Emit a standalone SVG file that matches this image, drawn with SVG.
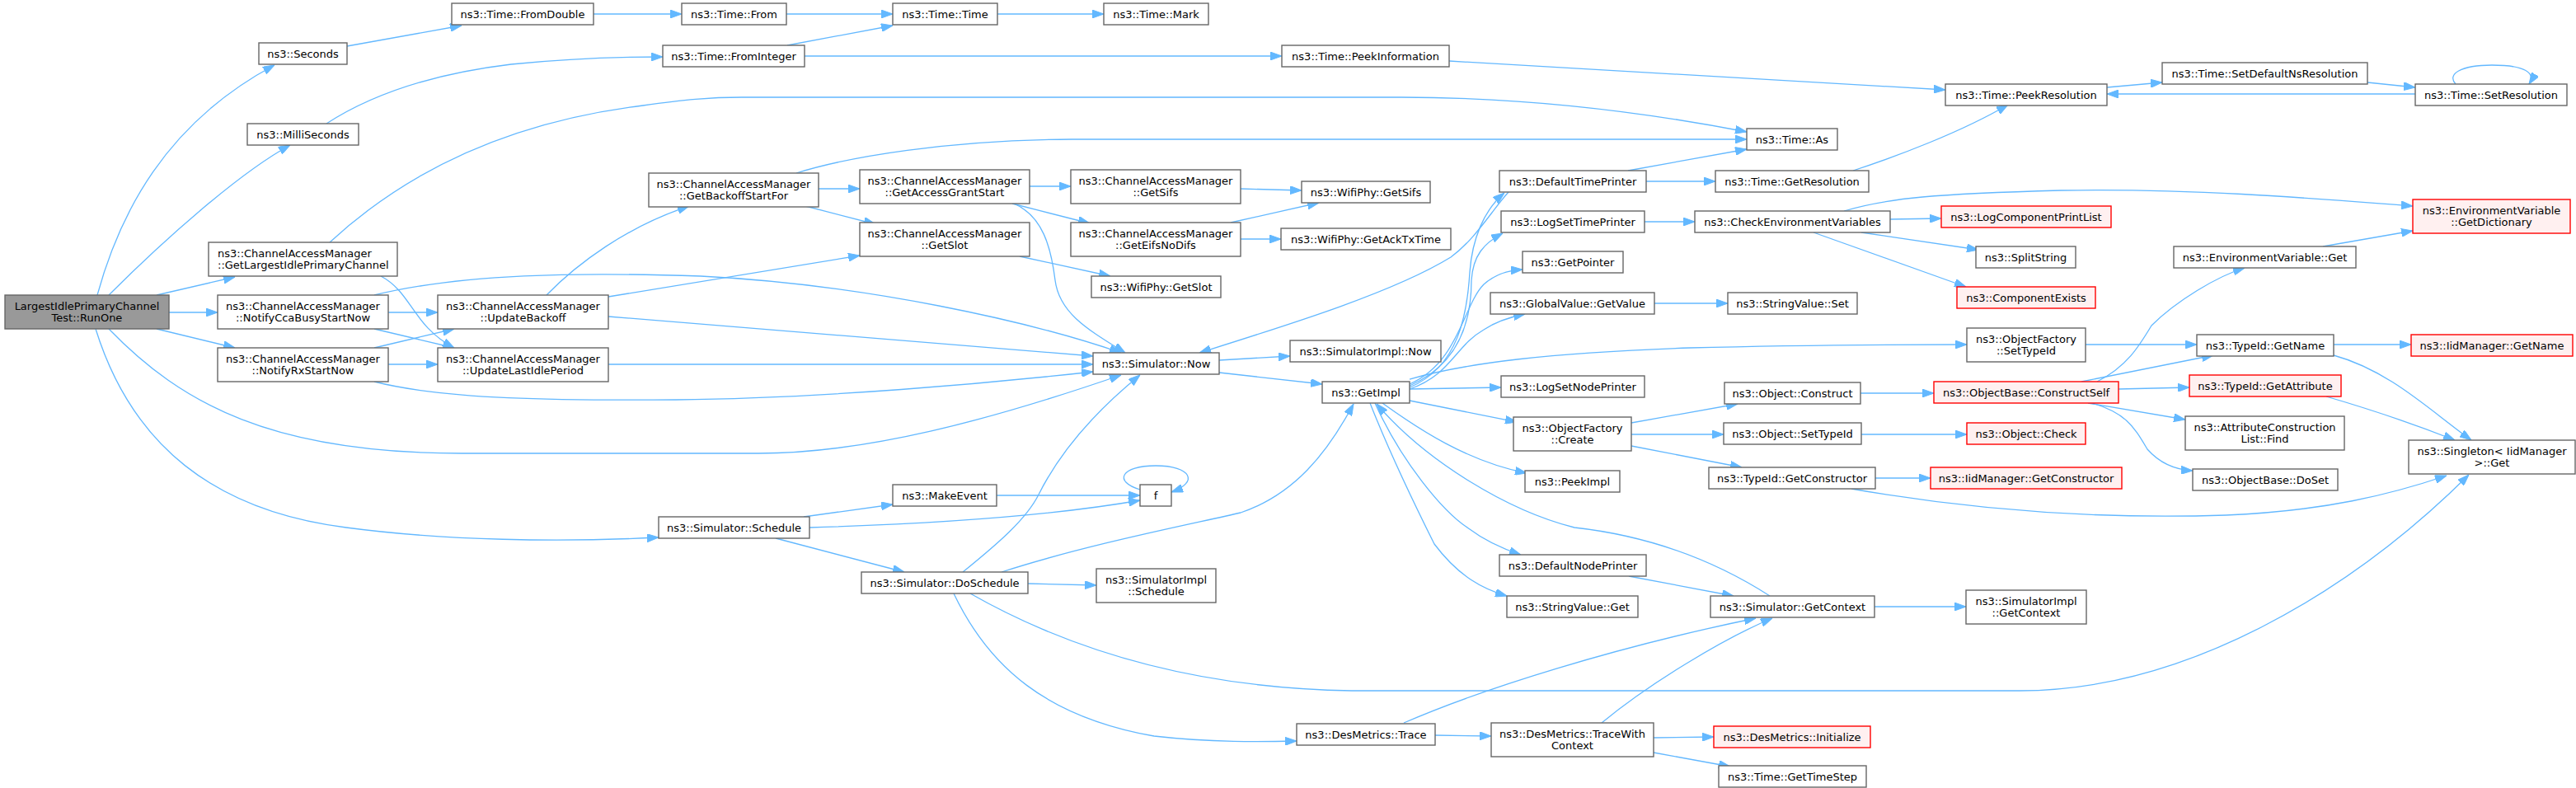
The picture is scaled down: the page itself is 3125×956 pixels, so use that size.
<svg xmlns="http://www.w3.org/2000/svg" width="3125" height="956" viewBox="0 0 3125 956">
<defs>
<marker id="a" viewBox="0 0 14 10" refX="14" refY="5" markerWidth="14" markerHeight="10" markerUnits="userSpaceOnUse" orient="auto">
<path d="M0,0 L14,5 L0,10 z" fill="#63b8ff" stroke="#63b8ff" stroke-width="1"/>
</marker>
</defs>
<style>
.n rect{fill:#ffffff;stroke:#666666;stroke-width:1.4}
.r rect{fill:#fff0f0;stroke:#ff0000;stroke-width:1.4}
.root rect{fill:#999999;stroke:#666666;stroke-width:1.4}
text{font-family:"DejaVu Sans","Liberation Sans",sans-serif;font-size:13px;fill:#000000;text-anchor:middle}
.l text{text-anchor:start}
#edges path{fill:none;stroke:#63b8ff;stroke-width:1.3;marker-end:url(#a)}
</style>
<rect x="0" y="0" width="3125" height="956" fill="#ffffff"/>
<g id="edges">
<path d="M118,358 C145,260 200,150 333,79"/>
<path d="M132,358 C200,290 290,210 352,176"/>
<path d="M190,358 L285,336"/>
<path d="M205,379 L264,379"/>
<path d="M190,399 L285,422"/>
<path d="M132,399 C220,490 330,550 560,550 L920,550 C1050,550 1200,510 1360,455"/>
<path d="M116,399 C160,540 260,620 420,640 C540,656 680,658 799,652"/>
<path d="M421,56 L560,31"/>
<path d="M396,150 C450,115 520,90 620,78 C700,70 760,69 804,69"/>
<path d="M720,17 L827,17"/>
<path d="M954,17 L1083,17"/>
<path d="M955,55 L1083,31"/>
<path d="M1210,17 L1339,17"/>
<path d="M976,68 L1555,68"/>
<path d="M1758,74 L2360,109"/>
<path d="M2556,106 L2623,100"/>
<path d="M2872,100 L2930,106"/>
<path d="M2930,114 L2556,114"/>
<path d="M2979,102 C2968,90 2985,79 3023,79 C3062,79 3077,88 3068,102"/>
<path d="M400,294 C480,220 600,150 780,128 C830,121 860,118 900,118 L1700,118 C1850,118 1990,135 2119,160"/>
<path d="M462,335 C500,355 500,395 551,422"/>
<path d="M471,379 L531,379"/>
<path d="M454,399 L551,422"/>
<path d="M454,358 C560,332 700,330 850,335 C1050,345 1250,390 1360,428"/>
<path d="M454,422 L551,399"/>
<path d="M471,442 L531,442"/>
<path d="M454,463 C540,485 680,486 820,485 C1000,483 1200,465 1326,451"/>
<path d="M663,358 C700,320 760,275 836,250"/>
<path d="M738,360 L1043,310"/>
<path d="M738,384 L1326,432"/>
<path d="M738,442 L1326,442"/>
<path d="M966,210 C1030,190 1150,170 1300,169 L2119,169"/>
<path d="M993,229 L1043,229"/>
<path d="M977,250 L1062,272"/>
<path d="M1249,226 L1299,226"/>
<path d="M1228,247 L1322,271"/>
<path d="M1230,247 C1265,262 1275,300 1280,340 C1285,380 1320,400 1365,428"/>
<path d="M1505,229 L1579,231"/>
<path d="M1493,270 L1600,246"/>
<path d="M1505,290 L1554,290"/>
<path d="M1237,311 L1347,335"/>
<path d="M1479,437 L1565,432"/>
<path d="M1479,452 L1604,466"/>
<path d="M1830,233 C1810,255 1790,290 1760,312 C1690,355 1560,395 1455,428"/>
<path d="M975,627 L1083,612"/>
<path d="M982,640 C1150,635 1280,625 1383,607"/>
<path d="M941,653 L1097,694"/>
<path d="M1209,601 L1383,601"/>
<path d="M1383,594 C1350,584 1360,565 1402,565 C1445,565 1455,585 1421,597"/>
<path d="M1168,694 C1210,660 1245,630 1260,600 C1290,540 1340,490 1383,455"/>
<path d="M1215,694 C1320,660 1450,635 1505,622 C1570,600 1610,550 1642,490"/>
<path d="M1247,708 L1330,710"/>
<path d="M1177,720 C1300,790 1450,835 1640,838 L2450,838 C2650,838 2850,720 2995,576"/>
<path d="M1157,720 C1200,810 1270,870 1400,893 C1470,901 1530,900 1573,899"/>
<path d="M1741,892 L1809,893"/>
<path d="M1703,877 C1800,835 1960,785 2130,750"/>
<path d="M1943,877 C2000,830 2090,775 2150,750"/>
<path d="M2006,895 L2079,894"/>
<path d="M2006,913 L2099,930"/>
<path d="M2274,736 L2385,736"/>
<path d="M2147,723 C2080,680 2000,650 1910,640 C1830,620 1730,560 1670,490"/>
<path d="M1710,470 C1770,445 1780,380 1783,330 C1786,290 1800,255 1825,234"/>
<path d="M1710,468 C1775,440 1785,380 1785,340 C1787,310 1800,295 1823,283"/>
<path d="M1710,466 C1770,440 1775,370 1800,345 C1815,332 1830,328 1847,327"/>
<path d="M1710,472 C1760,455 1765,420 1800,400 C1815,390 1830,385 1850,381"/>
<path d="M1710,460 C1780,440 1880,428 2050,422 C2200,418 2300,418 2386,418"/>
<path d="M1710,472 L1821,470"/>
<path d="M1710,486 L1840,512"/>
<path d="M1677,489 C1720,520 1780,560 1852,574"/>
<path d="M1668,489 C1700,560 1750,620 1780,640 C1800,655 1820,665 1845,673"/>
<path d="M1662,489 C1690,560 1720,620 1740,660 C1770,700 1800,715 1828,723"/>
<path d="M1976,699 L2103,723"/>
<path d="M1975,207 L2119,181"/>
<path d="M1997,220 L2081,220"/>
<path d="M2248,207 C2300,190 2380,160 2436,127"/>
<path d="M1995,269 L2056,269"/>
<path d="M2237,256 C2290,240 2350,235 2500,231 C2650,228 2800,240 2927,250"/>
<path d="M2293,266 L2355,265"/>
<path d="M2258,282 L2400,303"/>
<path d="M2200,282 L2385,348"/>
<path d="M2007,368 L2096,368"/>
<path d="M1979,513 L2108,490"/>
<path d="M1979,527 L2091,527"/>
<path d="M1979,541 L2113,567"/>
<path d="M2257,477 L2346,477"/>
<path d="M2258,527 L2386,527"/>
<path d="M2275,580 L2342,580"/>
<path d="M2246,593 C2400,620 2550,630 2700,625 C2820,620 2900,600 2968,577"/>
<path d="M2530,418 L2665,418"/>
<path d="M2525,463 L2685,431"/>
<path d="M2544,463 C2580,445 2595,420 2610,395 C2640,365 2690,335 2723,325"/>
<path d="M2570,472 L2656,470"/>
<path d="M2533,489 L2651,509"/>
<path d="M2534,488 C2580,500 2590,520 2605,545 C2620,562 2640,570 2660,571"/>
<path d="M2818,299 L2927,280"/>
<path d="M2831,418 L2925,418"/>
<path d="M2831,431 C2900,450 2950,500 2998,534"/>
<path d="M2822,481 C2870,495 2930,515 2978,534"/>
</g>
<g id="n_runone" class="root"><rect x="6" y="358" width="199" height="41"/><text x="105.5" y="376">LargestIdlePrimaryChannel</text><text x="105.5" y="389.5">Test::RunOne</text></g>
<g id="n_seconds" class="n"><rect x="314" y="52" width="107" height="26"/><text x="367.5" y="69.5">ns3::Seconds</text></g>
<g id="n_milliseconds" class="n"><rect x="300" y="150" width="135" height="26"/><text x="367.5" y="167.5">ns3::MilliSeconds</text></g>
<g id="n_getlargest" class="n l"><rect x="253" y="294" width="229" height="41"/><text x="264" y="312">ns3::ChannelAccessManager</text><text x="264" y="325.5">::GetLargestIdlePrimaryChannel</text></g>
<g id="n_notifycca" class="n"><rect x="264" y="358" width="207" height="41"/><text x="367.5" y="376">ns3::ChannelAccessManager</text><text x="367.5" y="389.5">::NotifyCcaBusyStartNow</text></g>
<g id="n_notifyrx" class="n"><rect x="264" y="422" width="207" height="41"/><text x="367.5" y="440">ns3::ChannelAccessManager</text><text x="367.5" y="453.5">::NotifyRxStartNow</text></g>
<g id="n_schedule" class="n"><rect x="799" y="627" width="183" height="26"/><text x="890.5" y="644.5">ns3::Simulator::Schedule</text></g>
<g id="n_fromdouble" class="n"><rect x="548" y="4" width="172" height="26"/><text x="634" y="21.5">ns3::Time::FromDouble</text></g>
<g id="n_frominteger" class="n"><rect x="804" y="55" width="172" height="26"/><text x="890" y="72.5">ns3::Time::FromInteger</text></g>
<g id="n_timeas" class="n"><rect x="2119" y="156" width="110" height="26"/><text x="2174" y="173.5">ns3::Time::As</text></g>
<g id="n_updatelast" class="n"><rect x="531" y="422" width="207" height="41"/><text x="634.5" y="440">ns3::ChannelAccessManager</text><text x="634.5" y="453.5">::UpdateLastIdlePeriod</text></g>
<g id="n_updatebackoff" class="n"><rect x="531" y="358" width="207" height="41"/><text x="634.5" y="376">ns3::ChannelAccessManager</text><text x="634.5" y="389.5">::UpdateBackoff</text></g>
<g id="n_now" class="n"><rect x="1326" y="428" width="153" height="26"/><text x="1402.5" y="445.5">ns3::Simulator::Now</text></g>
<g id="n_from" class="n"><rect x="827" y="4" width="127" height="26"/><text x="890.5" y="21.5">ns3::Time::From</text></g>
<g id="n_time" class="n"><rect x="1083" y="4" width="127" height="26"/><text x="1146.5" y="21.5">ns3::Time::Time</text></g>
<g id="n_mark" class="n"><rect x="1339" y="4" width="127" height="26"/><text x="1402.5" y="21.5">ns3::Time::Mark</text></g>
<g id="n_peekinfo" class="n"><rect x="1555" y="55" width="203" height="26"/><text x="1656.5" y="72.5">ns3::Time::PeekInformation</text></g>
<g id="n_getbackoff" class="n"><rect x="787" y="210" width="206" height="41"/><text x="890" y="228">ns3::ChannelAccessManager</text><text x="890" y="241.5">::GetBackoffStartFor</text></g>
<g id="n_grantstart" class="n"><rect x="1043" y="206" width="206" height="41"/><text x="1146" y="224">ns3::ChannelAccessManager</text><text x="1146" y="237.5">::GetAccessGrantStart</text></g>
<g id="n_camsifs" class="n"><rect x="1299" y="206" width="206" height="41"/><text x="1402" y="224">ns3::ChannelAccessManager</text><text x="1402" y="237.5">::GetSifs</text></g>
<g id="n_camslot" class="n"><rect x="1043" y="270" width="206" height="41"/><text x="1146" y="288">ns3::ChannelAccessManager</text><text x="1146" y="301.5">::GetSlot</text></g>
<g id="n_eifs" class="n"><rect x="1299" y="270" width="206" height="41"/><text x="1402" y="288">ns3::ChannelAccessManager</text><text x="1402" y="301.5">::GetEifsNoDifs</text></g>
<g id="n_wifisifs" class="n"><rect x="1579" y="220" width="156" height="26"/><text x="1657" y="237.5">ns3::WifiPhy::GetSifs</text></g>
<g id="n_acktx" class="n"><rect x="1554" y="277" width="206" height="26"/><text x="1657" y="294.5">ns3::WifiPhy::GetAckTxTime</text></g>
<g id="n_wifislot" class="n"><rect x="1324" y="335" width="157" height="26"/><text x="1402.5" y="352.5">ns3::WifiPhy::GetSlot</text></g>
<g id="n_simimplnow" class="n"><rect x="1565" y="413" width="183" height="26"/><text x="1656.5" y="430.5">ns3::SimulatorImpl::Now</text></g>
<g id="n_getimpl" class="n"><rect x="1604" y="463" width="106" height="26"/><text x="1657" y="480.5">ns3::GetImpl</text></g>
<g id="n_makeevent" class="n"><rect x="1083" y="588" width="126" height="26"/><text x="1146" y="605.5">ns3::MakeEvent</text></g>
<g id="n_f" class="n"><rect x="1383" y="588" width="38" height="26"/><text x="1402" y="605.5">f</text></g>
<g id="n_doschedule" class="n"><rect x="1045" y="694" width="202" height="26"/><text x="1146" y="711.5">ns3::Simulator::DoSchedule</text></g>
<g id="n_simimplsched" class="n"><rect x="1330" y="690" width="145" height="41"/><text x="1402.5" y="708">ns3::SimulatorImpl</text><text x="1402.5" y="721.5">::Schedule</text></g>
<g id="n_destrace" class="n"><rect x="1573" y="878" width="168" height="26"/><text x="1657" y="895.5">ns3::DesMetrics::Trace</text></g>
<g id="n_tracectx" class="n"><rect x="1809" y="877" width="197" height="41"/><text x="1907.5" y="895">ns3::DesMetrics::TraceWith</text><text x="1907.5" y="908.5">Context</text></g>
<g id="n_desinit" class="r"><rect x="2079" y="881" width="190" height="26"/><text x="2174" y="898.5">ns3::DesMetrics::Initialize</text></g>
<g id="n_timestep" class="n"><rect x="2085" y="929" width="179" height="26"/><text x="2174.5" y="946.5">ns3::Time::GetTimeStep</text></g>
<g id="n_defaulttp" class="n"><rect x="1819" y="207" width="178" height="26"/><text x="1908" y="224.5">ns3::DefaultTimePrinter</text></g>
<g id="n_logsettp" class="n"><rect x="1821" y="256" width="174" height="26"/><text x="1908" y="273.5">ns3::LogSetTimePrinter</text></g>
<g id="n_getpointer" class="n"><rect x="1847" y="305" width="122" height="26"/><text x="1908" y="322.5">ns3::GetPointer</text></g>
<g id="n_gvgetvalue" class="n"><rect x="1808" y="355" width="199" height="26"/><text x="1907.5" y="372.5">ns3::GlobalValue::GetValue</text></g>
<g id="n_logsetnp" class="n"><rect x="1821" y="456" width="174" height="26"/><text x="1908" y="473.5">ns3::LogSetNodePrinter</text></g>
<g id="n_ofcreate" class="n"><rect x="1836" y="506" width="143" height="41"/><text x="1907.5" y="524">ns3::ObjectFactory</text><text x="1907.5" y="537.5">::Create</text></g>
<g id="n_peekimpl" class="n"><rect x="1850" y="571" width="115" height="26"/><text x="1907.5" y="588.5">ns3::PeekImpl</text></g>
<g id="n_defaultnp" class="n"><rect x="1819" y="673" width="178" height="26"/><text x="1908" y="690.5">ns3::DefaultNodePrinter</text></g>
<g id="n_svget" class="n"><rect x="1828" y="723" width="159" height="26"/><text x="1907.5" y="740.5">ns3::StringValue::Get</text></g>
<g id="n_getcontext" class="n"><rect x="2075" y="723" width="199" height="26"/><text x="2174.5" y="740.5">ns3::Simulator::GetContext</text></g>
<g id="n_simimplctx" class="n"><rect x="2385" y="716" width="146" height="41"/><text x="2458" y="734">ns3::SimulatorImpl</text><text x="2458" y="747.5">::GetContext</text></g>
<g id="n_timegetres" class="n"><rect x="2081" y="207" width="186" height="26"/><text x="2174" y="224.5">ns3::Time::GetResolution</text></g>
<g id="n_checkenv" class="n"><rect x="2056" y="256" width="237" height="26"/><text x="2174.5" y="273.5">ns3::CheckEnvironmentVariables</text></g>
<g id="n_svset" class="n"><rect x="2096" y="355" width="157" height="26"/><text x="2174.5" y="372.5">ns3::StringValue::Set</text></g>
<g id="n_objconstruct" class="n"><rect x="2092" y="464" width="165" height="26"/><text x="2174.5" y="481.5">ns3::Object::Construct</text></g>
<g id="n_objsettypeid" class="n"><rect x="2091" y="513" width="167" height="26"/><text x="2174.5" y="530.5">ns3::Object::SetTypeId</text></g>
<g id="n_tidgetctor" class="n"><rect x="2073" y="567" width="202" height="26"/><text x="2174" y="584.5">ns3::TypeId::GetConstructor</text></g>
<g id="n_peekres" class="n"><rect x="2360" y="102" width="196" height="26"/><text x="2458" y="119.5">ns3::Time::PeekResolution</text></g>
<g id="n_setdefns" class="n"><rect x="2623" y="76" width="249" height="26"/><text x="2747.5" y="93.5">ns3::Time::SetDefaultNsResolution</text></g>
<g id="n_setres" class="n"><rect x="2930" y="102" width="184" height="26"/><text x="3022" y="119.5">ns3::Time::SetResolution</text></g>
<g id="n_getdict" class="r"><rect x="2927" y="242" width="191" height="41"/><text x="3022.5" y="260">ns3::EnvironmentVariable</text><text x="3022.5" y="273.5">::GetDictionary</text></g>
<g id="n_logcpl" class="r"><rect x="2355" y="250" width="206" height="26"/><text x="2458" y="267.5">ns3::LogComponentPrintList</text></g>
<g id="n_splitstring" class="n"><rect x="2397" y="299" width="121" height="26"/><text x="2457.5" y="316.5">ns3::SplitString</text></g>
<g id="n_compexists" class="r"><rect x="2374" y="348" width="168" height="26"/><text x="2458" y="365.5">ns3::ComponentExists</text></g>
<g id="n_evget" class="n"><rect x="2637" y="299" width="221" height="26"/><text x="2747.5" y="316.5">ns3::EnvironmentVariable::Get</text></g>
<g id="n_ofsettypeid" class="n"><rect x="2386" y="398" width="144" height="41"/><text x="2458" y="416">ns3::ObjectFactory</text><text x="2458" y="429.5">::SetTypeId</text></g>
<g id="n_constructself" class="r"><rect x="2346" y="463" width="224" height="26"/><text x="2458" y="480.5">ns3::ObjectBase::ConstructSelf</text></g>
<g id="n_objcheck" class="r"><rect x="2386" y="513" width="144" height="26"/><text x="2458" y="530.5">ns3::Object::Check</text></g>
<g id="n_iidgetctor" class="r"><rect x="2342" y="567" width="232" height="26"/><text x="2458" y="584.5">ns3::IidManager::GetConstructor</text></g>
<g id="n_tidgetname" class="n"><rect x="2665" y="406" width="166" height="26"/><text x="2748" y="423.5">ns3::TypeId::GetName</text></g>
<g id="n_tidgetattr" class="r"><rect x="2656" y="455" width="184" height="26"/><text x="2748" y="472.5">ns3::TypeId::GetAttribute</text></g>
<g id="n_acfind" class="n"><rect x="2651" y="505" width="193" height="41"/><text x="2747.5" y="523">ns3::AttributeConstruction</text><text x="2747.5" y="536.5">List::Find</text></g>
<g id="n_doset" class="n"><rect x="2660" y="569" width="176" height="26"/><text x="2748" y="586.5">ns3::ObjectBase::DoSet</text></g>
<g id="n_iidgetname" class="r"><rect x="2925" y="406" width="196" height="26"/><text x="3023" y="423.5">ns3::IidManager::GetName</text></g>
<g id="n_singleton" class="n"><rect x="2922" y="534" width="202" height="41"/><text x="3023" y="552">ns3::Singleton&lt; IidManager</text><text x="3023" y="565.5">&gt;::Get</text></g>
</svg>
